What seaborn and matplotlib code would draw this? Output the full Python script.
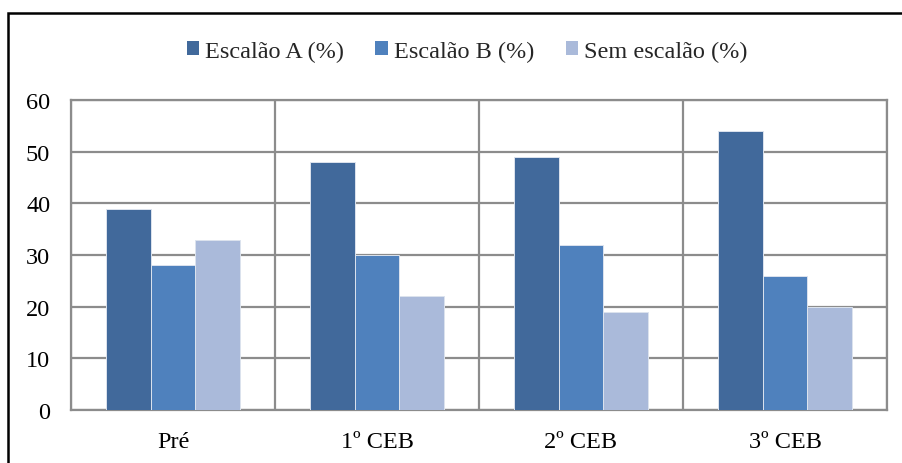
import matplotlib
matplotlib.use("Agg")
import matplotlib.pyplot as plt
from matplotlib.patches import Rectangle
import seaborn as sns
import pandas as pd

categories = ["Pré", "1º CEB", "2º CEB", "3º CEB"]
series_names = ["Escalão A (%)", "Escalão B (%)", "Sem escalão (%)"]
escalao_a = [39, 48, 49, 54]
escalao_b = [28, 30, 32, 26]
sem_escalao = [33, 22, 19, 20]
y_ticks = [0, 10, 20, 30, 40, 50, 60]

colors = ["#41699B", "#4F81BD", "#AABADA"]

rows = []
for name, vals in zip(series_names, [escalao_a, escalao_b, sem_escalao]):
    for cat, v in zip(categories, vals):
        rows.append({"Nível": cat, "Série": name, "Valor": v})
df = pd.DataFrame(rows)

sns.set_theme(style="white")
plt.rcParams["font.family"] = ["Liberation Serif", "DejaVu Serif"]

fig = plt.figure(figsize=(9.03, 4.64), dpi=100)
ax = fig.add_axes([71 / 903, 1 - 411 / 464, (887 - 71) / 903, (411 - 101) / 464])

sns.barplot(data=df, x="Nível", y="Valor", hue="Série", order=categories,
            hue_order=series_names, palette=colors, saturation=1, width=0.66, gap=0,
            edgecolor="#DCE3EE", linewidth=0.7, ax=ax, zorder=3)

ax.set_xlim(-0.5, len(categories) - 0.5)
ax.set_ylim(0, 60)
ax.set_yticks(y_ticks)
ax.set_xlabel("")
ax.set_ylabel("")

grid_color = "#8C8C8C"
fs = 17.5
ax.set_xticks([i - 0.5 for i in range(len(categories) + 1)], minor=True)
ax.grid(True, which="major", axis="y", color=grid_color, linewidth=1.6, zorder=0)
ax.grid(True, which="minor", axis="x", color=grid_color, linewidth=1.6, zorder=0)
ax.set_axisbelow(True)
ax.tick_params(axis="x", which="major", length=0, labelsize=fs, pad=15, colors="black")
ax.tick_params(axis="x", which="minor", length=7, width=1.6, color=grid_color)
ax.tick_params(axis="y", which="major", length=7, width=1.6, color=grid_color,
               labelsize=fs, pad=8, labelcolor="black")
for s in ax.spines.values():
    s.set_visible(True)
    s.set_color(grid_color)
    s.set_linewidth(1.6)

leg = ax.legend(loc="center", bbox_to_anchor=(467 / 903, 1 - 52 / 464), bbox_transform=fig.transFigure,
                ncol=3, frameon=False, fontsize=fs, handlelength=0.5, handleheight=0.5,
                handletextpad=0.25, columnspacing=1.3, borderpad=0)
for h in leg.legend_handles:
    h.set_edgecolor("none")

fig.patches.append(Rectangle((8 / 903, -0.1), 1.2, 1 - 14 / 464 + 0.1,
                             transform=fig.transFigure, fill=False,
                             edgecolor="black", linewidth=1.8, clip_on=False))

fig.savefig("out.png", dpi=100)
